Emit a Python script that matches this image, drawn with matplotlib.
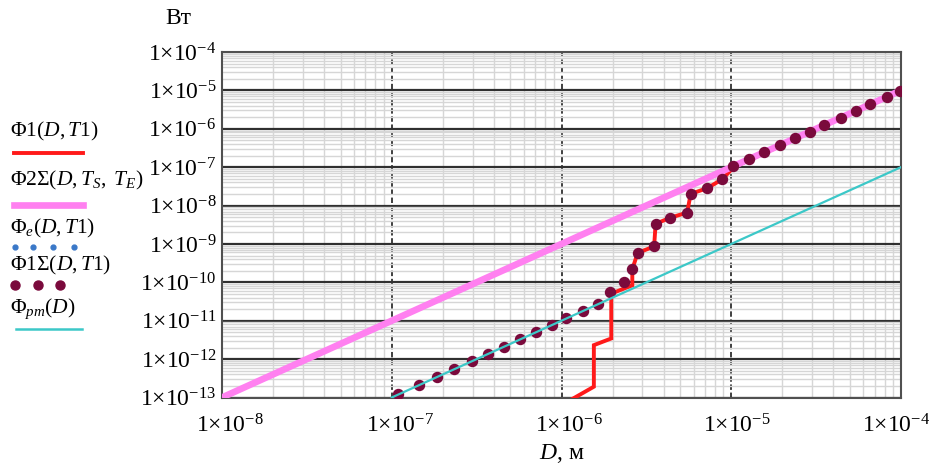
import numpy as np
import matplotlib
matplotlib.use('Agg')
import matplotlib.pyplot as plt
import matplotlib.transforms as mtransforms
from matplotlib.lines import Line2D
from matplotlib.ticker import LogLocator, FixedLocator, NullFormatter

plt.rcParams['font.family'] = ['Liberation Serif', 'DejaVu Serif']
plt.rcParams['mathtext.fontset'] = 'custom'
plt.rcParams['mathtext.rm'] = 'Liberation Serif'
plt.rcParams['mathtext.it'] = 'Liberation Serif:italic'
plt.rcParams['mathtext.bf'] = 'Liberation Serif:bold'

FS = 15.5
TICK_FS = 17

# ---- data (D in m, flux in W) ----
x_exponents = [-8, -7, -6, -5, -4]
y_exponents = [-13, -12, -11, -10, -9, -8, -7, -6, -5, -4]

# Phi_pm(D): straight line in log-log
pm_D = [1e-7, 1e-4]
pm_phi = [1e-13, 1e-7]

# Phi2Sigma(D, Ts, Te)
sum2_D = [1e-8, 1e-4]
sum2_phi = [1e-13, 1e-5]

# Phi1(D, T1): staircase
red_D = [1.13e-6, 1.551e-6, 1.551e-6, 1.964e-6, 1.964e-6, 2.613e-6, 2.613e-6,
         2.808e-6, 3.513e-6, 3.585e-6, 4.366e-6, 5.499e-6, 5.768e-6, 7.239e-6,
         8.874e-6, 1.034e-5, 1e-4]
red_phi = [8.6e-14, 1.91e-13, 2.31e-12, 3.45e-12, 5.08e-11, 8.36e-11, 2.18e-10,
           5.83e-10, 8.61e-10, 3.35e-9, 4.80e-9, 6.58e-9, 2.01e-8, 2.85e-8,
           4.88e-8, 1.0e-7, 1e-5]

# Phi1Sigma(D, T1): points
sum1_D = [1.09e-7, 1.45e-7, 1.86e-7, 2.34e-7, 2.99e-7, 3.71e-7, 4.61e-7, 5.73e-7,
          7.12e-7, 8.85e-7, 1.07e-6, 1.33e-6, 1.65e-6,
          1.93e-6, 2.33e-6, 2.61e-6, 2.81e-6, 3.51e-6, 3.59e-6, 4.37e-6, 5.50e-6,
          5.77e-6, 7.24e-6, 8.87e-6, 1.03e-5,
          1.27e-5, 1.56e-5, 1.93e-5, 2.37e-5, 2.90e-5, 3.51e-5, 4.43e-5, 5.43e-5,
          6.57e-5, 8.27e-5, 9.87e-5]
sum1_phi = [1.2e-13, 2.1e-13, 3.4e-13, 5.5e-13, 8.9e-13, 1.38e-12, 2.13e-12, 3.28e-12,
            5.07e-12, 7.83e-12, 1.15e-11, 1.77e-11, 2.73e-11,
            5.6e-11, 1.02e-10, 2.18e-10, 5.83e-10, 8.61e-10, 3.35e-9, 4.80e-9, 6.58e-9,
            2.01e-8, 2.85e-8, 4.88e-8, 1.07e-7,
            1.61e-7, 2.42e-7, 3.73e-7, 5.61e-7, 8.44e-7, 1.23e-6, 1.96e-6, 2.94e-6,
            4.31e-6, 6.84e-6, 9.73e-6]

# Phi_e(D, T1): hidden under the Phi1Sigma points
e_D = [1.03e-5, 1.27e-5, 1.56e-5, 1.93e-5, 2.37e-5, 2.90e-5, 3.51e-5, 4.43e-5,
       5.43e-5, 6.57e-5, 8.27e-5, 9.87e-5]
e_phi = [1.07e-7, 1.61e-7, 2.42e-7, 3.73e-7, 5.61e-7, 8.44e-7, 1.23e-6, 1.96e-6,
         2.94e-6, 4.31e-6, 6.84e-6, 9.73e-6]

legend_labels = [r'$\Phi1(D,T1)$', r'$\Phi2\Sigma(D,T_S,\ T_E)$', r'$\Phi_e(D,T1)$',
                 r'$\Phi1\Sigma(D,T1)$', r'$\Phi_{pm}(D)$']

RED = '#ff1a1a'
PINK = '#ff80f0'
CYAN = '#3cc8c8'
MAROON = '#7a0a3c'
BLUE = '#3a78c8'

W, H = 933, 467
fig = plt.figure(figsize=(W / 100, H / 100), dpi=100)
ax = fig.add_axes([222 / W, 1 - 397.5 / H, (901 - 222) / W, (397.5 - 52) / H])

ax.plot(red_D, red_phi, color=RED, lw=2.8, zorder=3, solid_joinstyle='miter')
ax.plot(sum2_D, sum2_phi, color=PINK, lw=4.8, zorder=4, solid_capstyle='butt')
ax.plot(e_D, e_phi, ls='none', marker='o', ms=3, color=BLUE, zorder=5)
ax.plot(sum1_D, sum1_phi, ls='none', marker='o', ms=7.2, color=MAROON, mec=MAROON, zorder=6)
ax.plot(pm_D, pm_phi, color=CYAN, lw=1.6, zorder=7)

ax.set_xscale('log')
ax.set_yscale('log')
ax.set_xlim(1e-8, 1e-4)
ax.set_ylim(1e-13, 1e-4)

ax.xaxis.set_major_locator(FixedLocator([10.0 ** e for e in x_exponents]))
ax.yaxis.set_major_locator(FixedLocator([10.0 ** e for e in y_exponents]))
ax.set_xticklabels([r'$1{\times}10^{%d}$' % e for e in x_exponents])
ax.set_yticklabels([r'$1{\times}10^{%d}$' % e for e in y_exponents])
ax.xaxis.set_minor_locator(LogLocator(base=10, subs=np.arange(2, 10), numticks=100))
ax.yaxis.set_minor_locator(LogLocator(base=10, subs=np.arange(2, 10), numticks=100))
ax.xaxis.set_minor_formatter(NullFormatter())
ax.yaxis.set_minor_formatter(NullFormatter())
ax.tick_params(which='both', length=0, labelsize=TICK_FS)
ax.tick_params(axis='x', pad=12)
ax.tick_params(axis='y', pad=4)

# Mathcad puts the x labels a little right of the tick; the last one must stay inside
label_shift_px = [8, 8, 8, 6, -5]
for lab, dx in zip(ax.get_xticklabels(), label_shift_px):
    shift = mtransforms.ScaledTranslation(dx / 100, 0, fig.dpi_scale_trans)
    lab.set_transform(lab.get_transform() + shift)

ax.set_axisbelow(True)
ax.grid(which='minor', color='#d6d6d6', lw=1.0)
ax.xaxis.grid(True, which='major', color='#303030', lw=1.3, ls=(0, (3, 1.5)))
ax.yaxis.grid(True, which='major', color='#303030', lw=1.6)
for s in ax.spines.values():
    s.set_color('#505050')
    s.set_linewidth(1.5)

ax.set_xlabel(r'$D$, м', fontsize=TICK_FS, labelpad=3)
fig.text(178 / W, 1 - 18 / H, 'Вт', fontsize=TICK_FS, ha='center', va='center')

# legend drawn at the left outside the plot
text_y = [131, 180, 228, 265, 309]
for lab, ty in zip(legend_labels, text_y):
    fig.text(10 / W, 1 - ty / H, lab, fontsize=FS, ha='left', va='center')

def fx(px):
    return [p / W for p in px]

def fy(py, n):
    return [1 - py / H] * n

fig.add_artist(Line2D(fx([14, 83]), fy(152.5, 2), color=RED, lw=2.8))
fig.add_artist(Line2D(fx([14, 83]), fy(204.5, 2), color=PINK, lw=4.8))
fig.add_artist(Line2D(fx([15, 33, 53, 74]), fy(246.5, 4), ls='none', marker='o', ms=3.5, color=BLUE))
fig.add_artist(Line2D(fx([15, 38, 60]), fy(285, 3), ls='none', marker='o', ms=6.5, color=MAROON))
fig.add_artist(Line2D(fx([16, 82]), fy(328.5, 2), color=CYAN, lw=1.8))

fig.savefig('out.png', dpi=100)
